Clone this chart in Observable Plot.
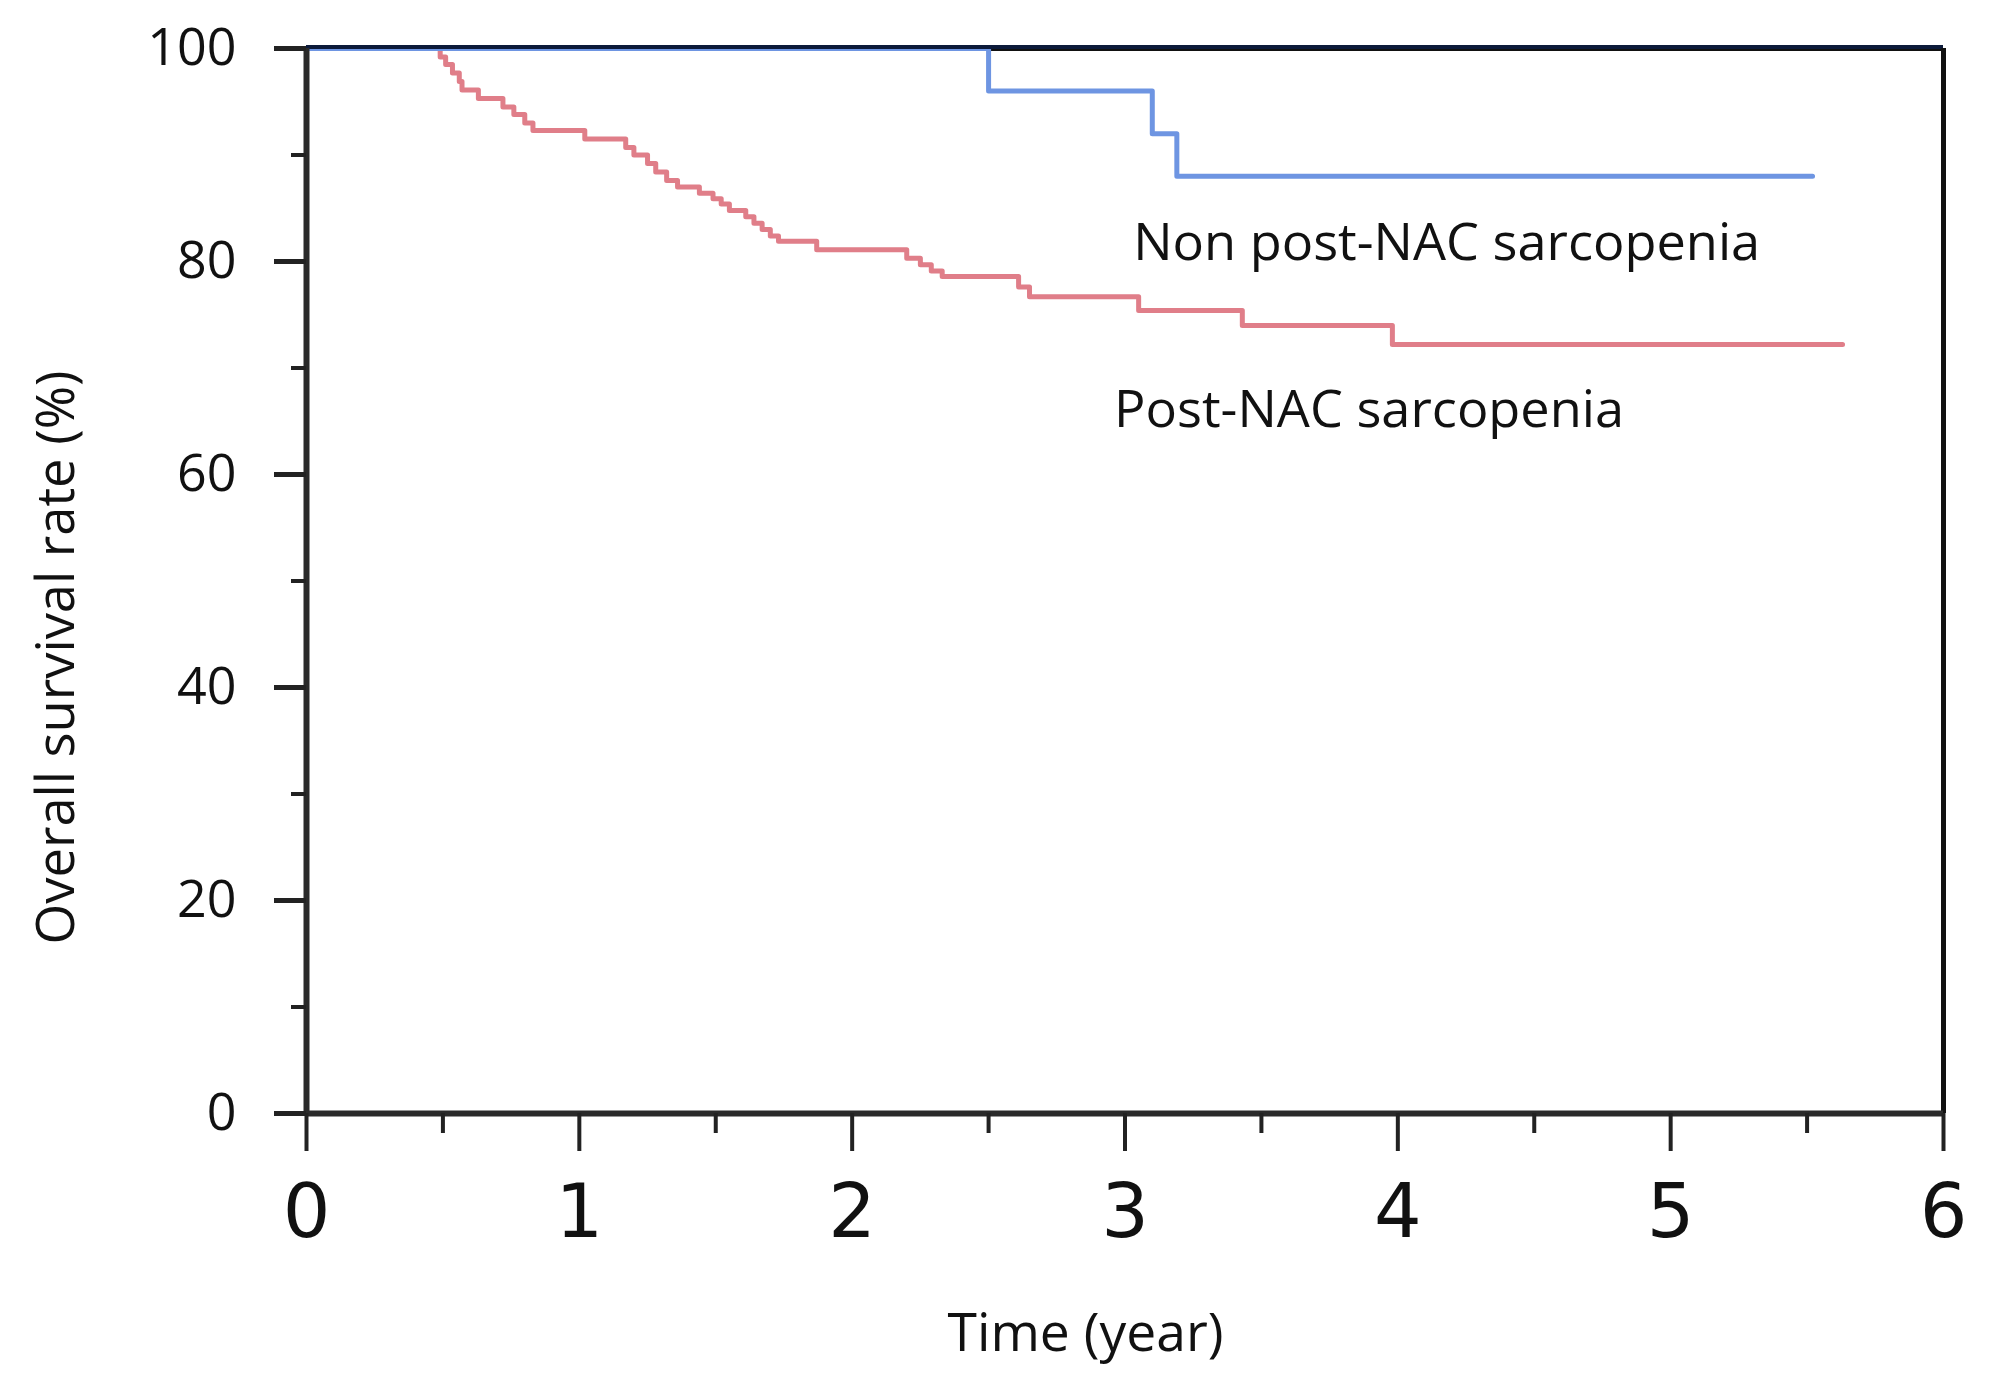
<!DOCTYPE html>
<html><head><meta charset="utf-8">
<script src="https://cdn.jsdelivr.net/npm/d3@7"></script>
<script src="https://cdn.jsdelivr.net/npm/@observablehq/plot@0.6"></script>
<style>body{margin:0;background:#fff;} svg{display:block;}</style>
</head><body><div id="chart"></div>
<script>
// Post-NAC sarcopenia (red)
const redTime = [0, 0.49, 0.51, 0.535, 0.56, 0.57, 0.63, 0.72, 0.76, 0.80, 0.83, 1.02, 1.17, 1.20, 1.25, 1.28, 1.32, 1.36, 1.44, 1.49, 1.52, 1.55, 1.61, 1.64, 1.67, 1.70, 1.73, 1.87, 2.20, 2.25, 2.29, 2.33, 2.61, 2.65, 3.05, 3.43, 3.98, 5.63];
const redSurv = [100, 99.2, 98.5, 97.7, 96.9, 96.1, 95.3, 94.5, 93.8, 93.0, 92.3, 91.5, 90.7, 90.0, 89.2, 88.4, 87.6, 87.0, 86.4, 85.9, 85.4, 84.8, 84.2, 83.6, 83.0, 82.4, 81.9, 81.1, 80.3, 79.7, 79.1, 78.6, 77.6, 76.7, 75.4, 74.0, 72.2, 72.2];
// Non post-NAC sarcopenia (blue)
const blueTime = [0, 2.50, 3.10, 3.19, 5.52];
const blueSurv = [100, 96, 92, 88, 88];

const xTicks = [0, 1, 2, 3, 4, 5, 6];
const xMinor = [0.5, 1.5, 2.5, 3.5, 4.5, 5.5];
const yTicks = [0, 20, 40, 60, 80, 100];
const yMinor = [10, 30, 50, 70, 90];
const xLabel = "Time (year)";
const yLabel = "Overall survival rate (%)";
const blueName = "Non post-NAC sarcopenia";
const redName = "Post-NAC sarcopenia";

const red = redTime.map((t, i) => ({t, s: redSurv[i]}));
const blue = blueTime.map((t, i) => ({t, s: blueSurv[i]}));

const chart = Plot.plot({
  width: 2000, height: 1384,
  marginLeft: 306, marginRight: 57, marginTop: 48, marginBottom: 271,
  x: {domain: [0, 6]},
  y: {domain: [0, 100]},
  style: {background: "#fff", color: "#111", fontFamily: "'Open Sans', sans-serif", overflow: "visible"},
  marks: [
    Plot.ruleY([100], {stroke: "#111", strokeWidth: 5}),
    Plot.line(red, {x: "t", y: "s", curve: "step-after", stroke: "#e07e89", strokeWidth: 5}),
    Plot.line(blue, {x: "t", y: "s", curve: "step-after", stroke: "#6e95e2", strokeWidth: 5}),
    Plot.ruleY([100], {stroke: "#0c1a3a", strokeWidth: 4, dy: -1.5}),
    Plot.ruleX([6], {stroke: "#111", strokeWidth: 5}),
    Plot.ruleX([0], {stroke: "#2a2a2a", strokeWidth: 6}),
    Plot.ruleY([0], {stroke: "#2a2a2a", strokeWidth: 6}),
    Plot.axisY(yTicks, {tickSize: 32, tickPadding: 38, strokeWidth: 5, stroke: "#222", fontSize: 52, fontFamily: "'Open Sans'", tickFormat: d => String(d), label: null}),
    Plot.axisY(yMinor, {tickSize: 15, strokeWidth: 4, stroke: "#222", tickFormat: () => "", label: null}),
    Plot.axisX(xTicks, {tickSize: 38, tickPadding: 32, strokeWidth: 4, stroke: "#222", fontSize: 75, fontFamily: "'DejaVu Sans'", tickFormat: d => String(d), label: null}),
    Plot.axisX(xMinor, {tickSize: 20, strokeWidth: 4, stroke: "#222", tickFormat: () => "", label: null}),
    Plot.text([yLabel], {text: d => d, frameAnchor: "left", dx: -233, dy: 76.5, rotate: -90, textAnchor: "middle", lineAnchor: "bottom", fontSize: 53, fill: "#111"}),
    Plot.text([xLabel], {text: d => d, frameAnchor: "bottom", dx: -39.5, dy: 237, textAnchor: "middle", lineAnchor: "bottom", fontSize: 53, fill: "#111"}),
    Plot.text([blueName], {text: d => d, x: 3.03, y: 80.1, textAnchor: "start", lineAnchor: "bottom", fontSize: 52, fill: "#111"}),
    Plot.text([redName], {text: d => d, x: 2.96, y: 64.5, textAnchor: "start", lineAnchor: "bottom", fontSize: 52, fill: "#111"})
  ]
});

const textLengths = {[yLabel]: 574, [xLabel]: 276, [blueName]: 627, [redName]: 510};
d3.select(chart).selectAll("text").each(function() {
  const L = textLengths[this.textContent];
  if (L) { this.setAttribute("textLength", L); this.setAttribute("lengthAdjust", "spacingAndGlyphs"); }
});
document.getElementById("chart").appendChild(chart);
</script>
</body></html>
